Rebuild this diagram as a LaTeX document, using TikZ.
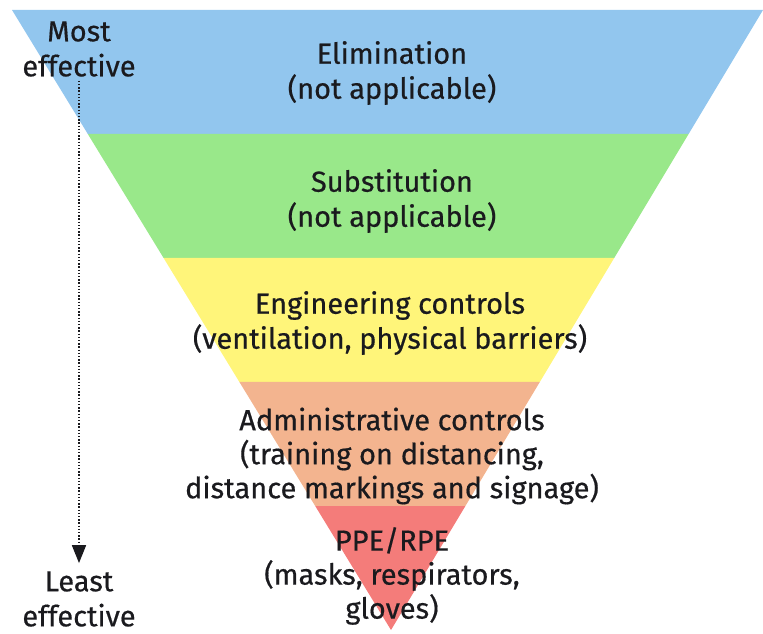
\documentclass[tikz,border=0pt]{standalone}
\usepackage{fontspec}
\setmainfont{Fira Sans}[UprightFeatures={FakeBold=0.5}]
\usetikzlibrary{calc,arrows.meta}
\definecolor{cblue}{RGB}{146,198,238}
\definecolor{cgreen}{RGB}{153,232,138}
\definecolor{cyellow}{RGB}{255,245,122}
\definecolor{corange}{RGB}{243,180,143}
\definecolor{cred}{RGB}{244,124,122}
\definecolor{ctext}{RGB}{26,26,30}
\tikzset{
  lbl/.style={align=center, text=ctext, font=\fontsize{29}{35}\selectfont, inner sep=0pt},
  lbltight/.style={lbl, font=\fontsize{29}{34}\selectfont},
  band/.style={draw=none}
}
\begin{document}
\begin{tikzpicture}[x=1pt,y=-1pt]
\useasboundingbox (0,0) rectangle (763,634);
\coordinate (L) at (12,10);
\coordinate (R) at (763,10);
\coordinate (A) at (391,630);
\foreach \i/\c in {0/cblue,1/cgreen,2/cyellow,3/corange} {
  \pgfmathsetmacro{\ta}{\i/5}
  \pgfmathsetmacro{\tb}{(\i+1)/5}
  \fill[\c] ($(L)!\ta!(A)$) -- ($(R)!\ta!(A)$) -- ($(R)!\tb!(A)$) -- ($(L)!\tb!(A)$) -- cycle;
}
\fill[cred] ($(L)!0.8!(A)$) -- ($(R)!0.8!(A)$) -- (A) -- cycle;
\node[lbl] (elim) at (392,73) {Elimination\\(not applicable)};
\node[lbl] (subst) at (392,201) {Substitution\\(not applicable)};
\node[lbl] (eng) at (390,323) {Engineering controls\\(ventilation, physical barriers)};
\node[lbltight] (admin) at (392,456) {Administrative controls\\(training on distancing,\\distance markings and signage)};
\node[lbltight] (ppe) at (392,576) {PPE/RPE\\(masks, respirators,\\gloves)};
\node[lbl] (most) at (79,49) {Most\\effective};
\node[lbl] (least) at (79,599) {Least\\effective};
\draw[ctext, line width=1.6pt, dash pattern=on 1.4pt off 1.8pt, -{Triangle[width=14pt,length=18pt]}] ([yshift=-4pt]most.south) -- ([yshift=8pt]least.north);
\end{tikzpicture}
\end{document}
